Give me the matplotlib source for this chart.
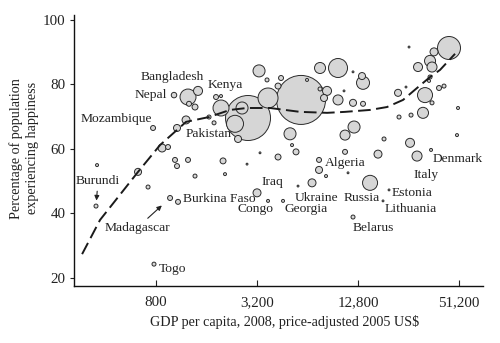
import numpy as np
import matplotlib
matplotlib.use('Agg')
import matplotlib.pyplot as plt
from matplotlib.ticker import NullLocator

plt.rcParams['font.family'] = ['Liberation Serif', 'DejaVu Serif']

# GDP per capita (2005 US$), share of people reporting happiness (%), population (millions)
gdp = [351, 356, 625, 717, 768, 778, 869, 943, 970, 1024,
       1038, 1067, 1067, 1082, 1208, 1241, 1241, 1258, 1366, 1366,
       1424, 1656, 1774, 1823, 1952, 1952, 2007, 2062, 2366, 2466,
       2605, 2790, 2828, 3200, 3290, 3334, 3671, 3722, 3722, 4270,
       4449, 4270, 4573, 5033, 5174, 5465, 5618, 5854, 6356, 6808,
       7496, 7496, 7600, 7600, 8027, 8250, 8365, 9727, 9727, 10562,
       10710, 10710, 11160, 11950, 11950, 11950, 12120, 13520, 13710, 13710,
       15100, 16840, 18040, 18290, 19590, 22170, 22470, 24730, 25780, 26140,
       26500, 28770, 29170, 31230, 32110, 33920, 34390, 34390, 34870, 35340,
       35340, 36330, 38910, 41670, 44630, 49800, 50500]
happy = [42.3, 55.0, 52.9, 48.2, 66.5, 24.3, 60.3, 60.6, 44.8, 76.7,
         56.6, 54.7, 66.5, 43.6, 69.0, 76.1, 56.6, 74.0, 73.0, 51.6,
         78.0, 69.9, 68.1, 76.1, 76.4, 72.7, 56.3, 52.2, 67.8, 63.1,
         72.7, 55.3, 69.6, 46.4, 84.2, 58.8, 81.4, 43.9, 75.8, 57.5,
         82.0, 79.5, 43.9, 64.7, 61.2, 59.1, 48.5, 75.2, 81.4, 49.5,
         56.6, 53.5, 85.1, 78.6, 75.8, 51.6, 78.0, 85.1, 75.2, 78.0,
         64.3, 59.1, 52.6, 38.9, 83.9, 74.3, 66.8, 82.6, 80.5, 74.0,
         49.5, 58.4, 43.9, 63.1, 47.3, 77.4, 69.9, 79.2, 91.6, 61.9,
         70.5, 57.8, 85.4, 71.2, 76.7, 81.1, 82.3, 87.3, 59.7, 85.4,
         74.3, 90.1, 78.9, 79.5, 91.3, 64.3, 72.7]
pop = [9, 5, 28, 9, 14, 9, 36, 14, 14, 17,
       14, 14, 28, 14, 36, 145, 14, 14, 20, 9,
       46, 9, 9, 14, 5, 145, 20, 5, 164, 28,
       82, 2, 1149, 36, 82, 2, 9, 5, 227, 20,
       14, 20, 5, 82, 5, 20, 2, 1363, 5, 36,
       14, 28, 69, 9, 28, 5, 46, 205, 57, 2,
       57, 14, 2, 9, 2, 28, 82, 28, 96, 14,
       128, 36, 2, 9, 2, 28, 9, 2, 2, 46,
       9, 57, 46, 69, 128, 5, 9, 69, 5, 57,
       9, 36, 14, 9, 300, 5, 5]

labeled = {'Burundi': 0, 'Mozambique': 4, 'Togo': 5, 'Madagascar': 8, 'Nepal': 9,
           'Burkina Faso': 13, 'Bangladesh': 15, 'Kenya': 20, 'Pakistan': 28,
           'Iraq': 33, 'Congo': 37, 'Georgia': 42, 'Ukraine': 49, 'Algeria': 50,
           'Belarus': 63, 'Russia': 70, 'Lithuania': 72, 'Estonia': 74,
           'Italy': 81, 'Denmark': 88}

# smoothed relationship drawn as the dashed curve
fit_gdp = [290, 371, 625, 845, 1208, 1656, 2209, 2790, 3826, 5773,
           8365, 10710, 15100, 19060, 23740, 28770, 34390, 39450, 48480]
fit_happy = [27.4, 38.0, 52.9, 61.2, 68.4, 69.9, 72.1, 72.7, 72.7, 71.5,
             71.2, 71.5, 72.1, 73.0, 75.2, 78.9, 82.3, 84.5, 89.5]

xticks = [800, 3200, 12800, 51200]
xtick_labels = ['800', '3,200', '12,800', '51,200']
yticks = [20, 40, 60, 80, 100]

# label placement, offset from the point in pixels (x right, y up)
offsets = {'Burundi': (2, 25), 'Mozambique': (-72, 9), 'Togo': (5, -5),
           'Madagascar': (-33, -30), 'Nepal': (-39, 0), 'Burkina Faso': (5, 3),
           'Bangladesh': (-47, 20), 'Kenya': (10, 6), 'Pakistan': (-49, -10),
           'Iraq': (4, 11), 'Congo': (-31, -8), 'Georgia': (1, -8),
           'Ukraine': (-17, -15), 'Algeria': (6, -3), 'Belarus': (0, -11),
           'Russia': (-26, -15), 'Lithuania': (2, -8), 'Estonia': (3, -3),
           'Italy': (-4, -19), 'Denmark': (2, -9)}
arrows = {'Burundi': 3, 'Madagascar': 7}

fig, ax = plt.subplots(figsize=(5, 3.43), dpi=100)
fig.subplots_adjust(left=0.148, right=0.966, bottom=0.166, top=0.956)

ax.set_xscale('log', base=2)
ax.set_xlim(259.5, 71160)
ax.set_ylim(17.5, 101.5)

x = np.array(gdp)
y = np.array(happy)
p = np.array(pop, dtype=float)
order = np.argsort(p)[::-1]
ax.scatter(x[order], y[order], s=0.913 * p[order], facecolor='#d6d6d6',
           edgecolor='#2b2b2b', linewidth=0.7, zorder=3)

ax.plot(fit_gdp, fit_happy, color='#1a1a1a', lw=1.4, dashes=(6.5, 2.8),
        zorder=4, solid_capstyle='butt', dash_capstyle='butt')

px2pt = 72 / 100
for name, i in labeled.items():
    dx, dy = offsets[name]
    if name in arrows:
        ax.annotate(name, xy=(gdp[i], happy[i]), xytext=(dx * px2pt, dy * px2pt),
                    textcoords='offset points', ha='center', va='center',
                    fontsize=9.7, color='#222222', zorder=5,
                    arrowprops=dict(arrowstyle='-|>', color='#222222', lw=0.8,
                                    mutation_scale=7, shrinkA=1,
                                    shrinkB=arrows[name] + 1))
    else:
        ax.annotate(name, xy=(gdp[i], happy[i]), xytext=(dx * px2pt, dy * px2pt),
                    textcoords='offset points', ha='left', va='center',
                    fontsize=9.7, color='#222222', zorder=5)

ax.set_xticks(xticks)
ax.set_xticklabels(xtick_labels)
ax.xaxis.set_minor_locator(NullLocator())
ax.set_yticks(yticks)
ax.tick_params(axis='x', direction='in', length=4, width=0.8, pad=7,
               labelsize=10.8, colors='#222222')
ax.tick_params(axis='y', direction='out', length=3, width=0.8, pad=3,
               labelsize=10.8, colors='#222222')

for side in ['top', 'right']:
    ax.spines[side].set_visible(False)
for side in ['left', 'bottom']:
    ax.spines[side].set_linewidth(1.0)
    ax.spines[side].set_color('#111111')

ax.set_xlabel('GDP per capita, 2008, price-adjusted 2005 US$', fontsize=10.2,
              color='#222222')
ax.xaxis.set_label_coords(0.516, -0.133)
ax.xaxis.label.set_va('center')
ax.set_ylabel('Percentage of population\nexperiencing happiness', fontsize=10.2,
              color='#222222', linespacing=1.25)
ax.yaxis.set_label_coords(-0.122, 0.509)
ax.yaxis.label.set_va('center')

fig.savefig('out.png', dpi=100)
